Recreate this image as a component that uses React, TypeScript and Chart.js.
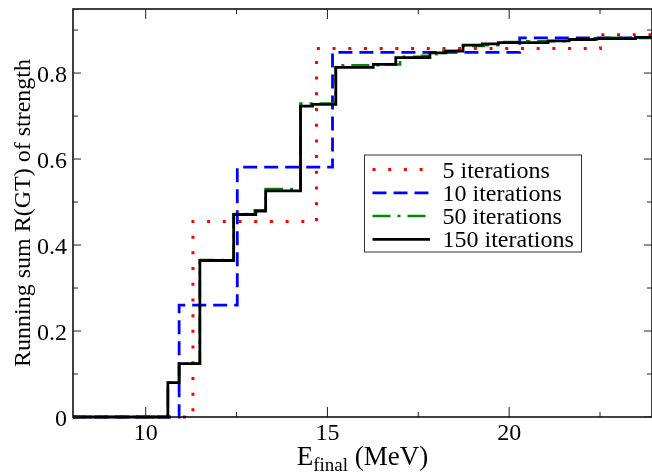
import React, { useEffect, useRef } from "react";
import { Chart, registerables } from "chart.js";

Chart.register(...registerables);

// Axis ranges
const X_MIN = 8;
const X_MAX = 23.93;
const Y_MIN = 0;
const Y_MAX = 0.949;

// Tick positions and labels
const xMajorTicks = [10, 15, 20];
const xMinorTicks = [12.5, 17.5, 22.5];
const xTickLabels = ["10", "15", "20"];
const yMajorTicks = [0, 0.2, 0.4, 0.6, 0.8];
const yMinorTicks = [0.1, 0.3, 0.5, 0.7, 0.9];
const yTickLabels = ["0", "0.2", "0.4", "0.6", "0.8"];

// Step edges (MeV) and the running sum reached at each edge
const energies5 = [8, 11.3, 14.7, 22.51, 23.93];
const sums5 = [0, 0.455, 0.857, 0.889, 0.889];

const energies10 = [8, 10.92, 12.52, 15.14, 20.29, 23.93];
const sums10 = [0, 0.26, 0.581, 0.848, 0.882, 0.882];

const energies50 = [8, 10.61, 10.92, 11.49, 12.42, 13.0, 13.3, 14.26, 15.23, 16.55, 17.0, 17.6, 18.0, 18.6, 19.3, 19.7, 20.5, 21.6, 22.6, 23.93];
const sums50 = [0, 0.08, 0.124, 0.365, 0.472, 0.481, 0.53, 0.729, 0.818, 0.82, 0.838, 0.84, 0.851, 0.863, 0.865, 0.872, 0.874, 0.878, 0.882, 0.884];

const energies150 = [8, 10.61, 10.92, 11.49, 12.42, 13.03, 13.3, 14.26, 14.59, 15.23, 16.26, 16.88, 17.82, 18.26, 18.73, 19.26, 19.7, 21.07, 21.65, 22.36, 23.48, 23.93];
const sums150 = [0, 0.08, 0.124, 0.364, 0.471, 0.479, 0.526, 0.723, 0.727, 0.813, 0.82, 0.836, 0.847, 0.851, 0.865, 0.868, 0.871, 0.875, 0.878, 0.88, 0.883, 0.883];

const seriesNames = ["5 iterations", "10 iterations", "50 iterations", "150 iterations"];

const SERIF = '"Liberation Serif"';

type Style = { color: string; width: number; dash: number[] };
const styles: Style[] = [
  { color: "#ff0000", width: 3, dash: [3, 12.7] },
  { color: "#0000ff", width: 2.8, dash: [14, 7] },
  { color: "#008a00", width: 2.6, dash: [18, 7, 3, 7] },
  { color: "#000000", width: 2.8, dash: [] },
];

const toPoints = (xs: number[], ys: number[]) => xs.map((x, i) => ({ x, y: ys[i] }));

const decorations = {
  id: "graceFrame",
  afterDraw(chart: Chart) {
    const { ctx, chartArea: a } = chart;
    const xs = chart.scales.x;
    const ys = chart.scales.y;
    ctx.save();

    // frame
    ctx.strokeStyle = "#000";
    ctx.lineWidth = 1.5;
    ctx.setLineDash([]);
    ctx.strokeRect(a.left, a.top, a.right - a.left, a.bottom - a.top);

    // ticks on all four sides, pointing inward
    ctx.lineWidth = 1;
    ctx.strokeStyle = "#222";
    const vTick = (v: number, len: number) => {
      const px = xs.getPixelForValue(v);
      ctx.beginPath();
      ctx.moveTo(px, a.bottom);
      ctx.lineTo(px, a.bottom - len);
      ctx.moveTo(px, a.top);
      ctx.lineTo(px, a.top + len);
      ctx.stroke();
    };
    const hTick = (v: number, len: number) => {
      const py = ys.getPixelForValue(v);
      ctx.beginPath();
      ctx.moveTo(a.left, py);
      ctx.lineTo(a.left + len, py);
      ctx.moveTo(a.right, py);
      ctx.lineTo(a.right - len, py);
      ctx.stroke();
    };
    xMajorTicks.forEach((v) => vTick(v, 10));
    xMinorTicks.forEach((v) => vTick(v, 5));
    yMajorTicks.forEach((v) => hTick(v, 8));
    yMinorTicks.forEach((v) => hTick(v, 5));

    // tick labels
    ctx.fillStyle = "#000";
    ctx.font = `24px ${SERIF}`;
    ctx.textBaseline = "alphabetic";
    ctx.textAlign = "center";
    xMajorTicks.forEach((v, i) => {
      ctx.fillText(xTickLabels[i], xs.getPixelForValue(v), a.bottom + 23);
    });
    ctx.textAlign = "right";
    yMajorTicks.forEach((v, i) => {
      ctx.fillText(yTickLabels[i], a.left - 6, ys.getPixelForValue(v) + 8.5);
    });

    // y axis title
    ctx.save();
    ctx.translate(30, (a.top + a.bottom) / 2);
    ctx.rotate(-Math.PI / 2);
    ctx.textAlign = "center";
    ctx.font = `24px ${SERIF}`;
    ctx.fillText("Running sum R(GT) of strength", 0, 0);
    ctx.restore();

    // legend box
    const bx = 364, by = 154.5, bw = 217, bh = 97;
    ctx.fillStyle = "#fff";
    ctx.fillRect(bx, by, bw, bh);
    ctx.strokeStyle = "#333";
    ctx.lineWidth = 1;
    ctx.strokeRect(bx + 0.5, by + 0.5, bw, bh);
    const rowY = [169.5, 192.8, 216, 239.3];
    seriesNames.forEach((name, i) => {
      const s = styles[i];
      ctx.strokeStyle = s.color;
      ctx.lineWidth = s.width;
      ctx.setLineDash(s.dash);
      ctx.lineCap = "butt";
      ctx.beginPath();
      ctx.moveTo(372.5, rowY[i]);
      ctx.lineTo(430, rowY[i]);
      ctx.stroke();
      ctx.setLineDash([]);
      ctx.fillStyle = "#000";
      ctx.font = `24px ${SERIF}`;
      ctx.textAlign = "left";
      ctx.fillText(name, 442.5, rowY[i] + 8);
    });

    ctx.restore();
  },
};

export default function App() {
  const canvasRef = useRef<HTMLCanvasElement | null>(null);

  useEffect(() => {
    if (!canvasRef.current) return;
    const seriesX = [energies5, energies10, energies50, energies150];
    const seriesY = [sums5, sums10, sums50, sums150];
    const datasets = seriesNames.map((name, i) => ({
      label: name,
      data: toPoints(seriesX[i], seriesY[i]),
      stepped: true as const,
      borderColor: styles[i].color,
      borderWidth: styles[i].width,
      borderDash: styles[i].dash,
      borderCapStyle: "butt" as const,
      borderJoinStyle: "miter" as const,
      pointRadius: 0,
      fill: false,
      clip: 4,
      order: 3 - i,
    }));
    const chart = new Chart(canvasRef.current, {
      type: "line",
      data: { datasets },
      options: {
        animation: false,
        responsive: false,
        devicePixelRatio: 1,
        layout: { padding: { left: 73, top: 9, right: 0, bottom: 57 } },
        plugins: { legend: { display: false }, tooltip: { enabled: false } },
        scales: {
          x: { type: "linear", min: X_MIN, max: X_MAX, display: false },
          y: { type: "linear", min: Y_MIN, max: Y_MAX, display: false },
        },
      },
      plugins: [decorations],
    });
    return () => chart.destroy();
  }, []);

  return (
    <div style={{ position: "fixed", left: 0, top: 0, width: 652, height: 474, background: "#fff" }}>
      <div
        style={{
          position: "absolute",
          left: 73,
          width: 579,
          top: 443,
          textAlign: "center",
          font: '27px "Liberation Serif"',
          lineHeight: "27px",
          whiteSpace: "nowrap",
          zIndex: 2,
        }}
      >
        E<span style={{ fontSize: 19, position: "relative", top: 6 }}>final</span> (MeV)
      </div>
      <canvas ref={canvasRef} width={652} height={474} />
    </div>
  );
}
